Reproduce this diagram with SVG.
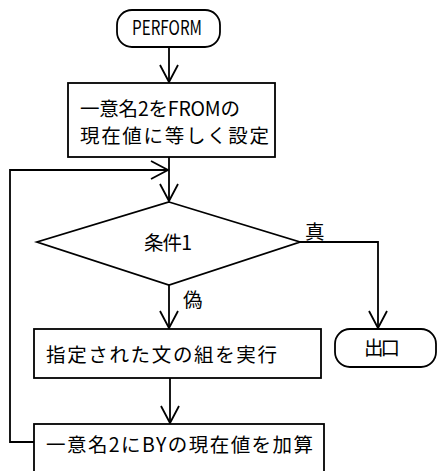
<svg xmlns="http://www.w3.org/2000/svg" width="437" height="471" viewBox="0 0 437 471">
<style>
.s{fill:#fff;stroke:#000;stroke-width:1.8}
.c{fill:none;stroke:#000;stroke-width:1.8}
text{font-family:"Noto Sans CJK JP","DejaVu Sans",sans-serif;font-size:19.5px;fill:#000}
</style>
<defs>
<marker id="a" viewBox="0 0 20 20" refX="18" refY="10" markerWidth="20" markerHeight="20" markerUnits="userSpaceOnUse" orient="auto">
<path d="M1,1 L18,10 L1,19" fill="none" stroke="#000" stroke-width="1.8"/>
</marker>
</defs>
<rect width="437" height="471" fill="#fff"/>
<g id="connectors">
<path class="c" d="M169,47 V82" marker-end="url(#a)"/>
<path class="c" d="M169,157 V201" marker-end="url(#a)"/>
<path class="c" d="M34,442 H10 V170 H168" marker-end="url(#a)"/>
<path class="c" d="M169,285 V328" marker-end="url(#a)"/>
<path class="c" d="M300,242 H378 V328" marker-end="url(#a)"/>
<path class="c" d="M170,378 V423" marker-end="url(#a)"/>
</g>
<g id="start">
<rect class="s" x="117" y="10" width="103" height="37" rx="15"/>
<text x="132" y="35" textLength="70" lengthAdjust="spacingAndGlyphs" font-size="21">PERFORM</text>
</g>
<g id="init">
<rect class="s" x="68" y="83" width="207" height="74"/>
<text x="80" y="116" textLength="160" lengthAdjust="spacing">一意名2をFROMの</text>
<text x="80" y="143" textLength="189" lengthAdjust="spacing">現在値に等しく設定</text>
</g>
<g id="cond">
<polygon class="s" points="169,202 300,242 169,285 37,242"/>
<text x="144" y="250" textLength="48" lengthAdjust="spacing">条件1</text>
<text x="305" y="239">真</text>
<text x="183" y="307">偽</text>
</g>
<g id="exec">
<rect class="s" x="34" y="329" width="287" height="49"/>
<text x="46" y="362" textLength="231" lengthAdjust="spacing">指定された文の組を実行</text>
</g>
<g id="incr">
<rect class="s" x="34" y="424" width="290" height="60"/>
<text x="46" y="452" textLength="267" lengthAdjust="spacing">一意名2にBYの現在値を加算</text>
</g>
<g id="exit">
<rect class="s" x="335" y="329" width="101" height="38" rx="15"/>
<text x="364" y="355" textLength="36" lengthAdjust="spacing">出口</text>
</g>
</svg>
